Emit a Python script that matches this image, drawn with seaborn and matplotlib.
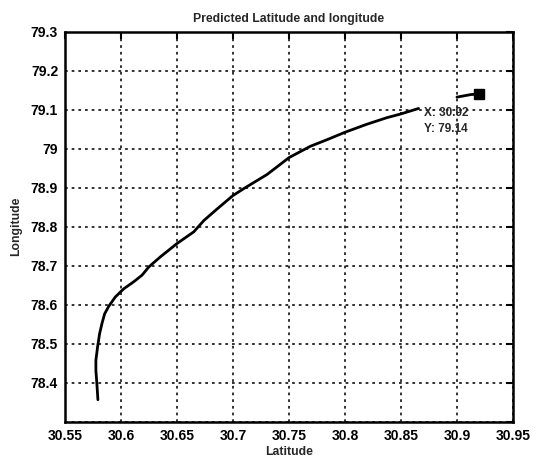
import matplotlib
matplotlib.use("Agg")
import matplotlib.pyplot as plt
import seaborn as sns
import pandas as pd

# Predicted track (latitude, longitude)
latitude = [30.5794, 30.5785, 30.5776, 30.5776, 30.5791, 30.5809, 30.5830, 30.5854,
            30.5890, 30.5949, 30.6024, 30.6113, 30.6188, 30.6248, 30.6352, 30.6500,
            30.6650, 30.6740, 30.6860, 30.7000, 30.7098, 30.7305, 30.7500, 30.7690,
            30.7840, 30.8000, 30.8190, 30.8370, 30.8500, 30.8657]
longitude = [78.357, 78.398, 78.432, 78.458, 78.492, 78.526, 78.552, 78.577,
             78.596, 78.620, 78.641, 78.659, 78.676, 78.697, 78.723, 78.757,
             78.787, 78.816, 78.846, 78.880, 78.898, 78.934, 78.977, 79.006,
             79.023, 79.042, 79.062, 79.079, 79.089, 79.103]

# Final leg leading into the marked point
tail_lat = [30.9000, 30.9125, 30.92]
tail_lon = [79.132, 79.1386, 79.14]
tip_lat, tip_lon = 30.92, 79.14

x_ticks = [30.55, 30.60, 30.65, 30.70, 30.75, 30.80, 30.85, 30.90, 30.95]
x_labels = ["30.55", "30.6", "30.65", "30.7", "30.75", "30.8", "30.85", "30.9", "30.95"]
y_ticks = [78.3, 78.4, 78.5, 78.6, 78.7, 78.8, 78.9, 79.0, 79.1, 79.2, 79.3]
y_labels = ["", "78.4", "78.5", "78.6", "78.7", "78.8", "78.9", "79", "79.1", "79.2", "79.3"]

sns.set_style("white")
plt.rcParams["font.family"] = ["Liberation Sans", "DejaVu Sans"]

fig = plt.figure(figsize=(5.46, 4.61), dpi=100)
ax = fig.add_axes([0.119, 0.0846, 0.8205, 0.847])

track = pd.DataFrame({"lat": latitude, "lon": longitude})
tail = pd.DataFrame({"lat": tail_lat, "lon": tail_lon})

sns.lineplot(data=track, x="lat", y="lon", sort=False, estimator=None,
             color="black", linewidth=2.0, ax=ax)
sns.lineplot(data=tail, x="lat", y="lon", sort=False, estimator=None,
             color="black", linewidth=2.0, ax=ax)
ax.plot([tip_lat], [tip_lon], marker="s", markersize=6.5, color="black",
        linestyle="none")
ax.annotate(f"X: {tip_lat:.2f}\nY: {tip_lon:.2f}", xy=(tip_lat, tip_lon),
            xytext=(-55, -13), textcoords="offset pixels", ha="left", va="top",
            fontsize=8.5, fontweight="bold", linespacing=1.4)

ax.set_xlim(30.55, 30.95)
ax.set_ylim(78.3, 79.3)
ax.set_xticks(x_ticks)
ax.set_xticklabels(x_labels)
ax.set_yticks(y_ticks)
ax.set_yticklabels(y_labels)

ax.grid(True, color="#222222", linestyle=(0, (1.5, 2.2)), linewidth=1.3)
ax.tick_params(direction="in", length=5, width=1.5, top=True, right=True,
               labelsize=10, pad=5, colors="black")
for lbl in ax.get_xticklabels() + ax.get_yticklabels():
    lbl.set_fontweight("bold")
for sp in ax.spines.values():
    sp.set_linewidth(1.8)
    sp.set_color("black")

ax.set_title("Predicted Latitude and longitude", fontsize=8.8, fontweight="bold", pad=7)
ax.set_xlabel("Latitude", fontsize=8.8, fontweight="bold", labelpad=2)
ax.set_ylabel("Longitude", fontsize=8.8, fontweight="bold", labelpad=6)

fig.savefig("out.png", dpi=100)
